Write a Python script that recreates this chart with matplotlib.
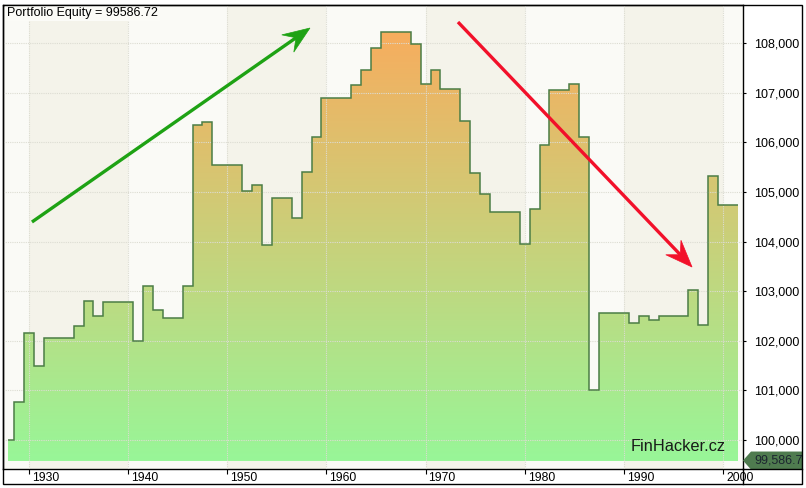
import numpy as np
import matplotlib
matplotlib.use("Agg")
import matplotlib.pyplot as plt
from matplotlib.colors import LinearSegmentedColormap
from matplotlib.patches import Rectangle, Polygon
from matplotlib.lines import Line2D
import matplotlib.transforms as mtransforms
import matplotlib.ticker as mtick

plt.rcParams['font.family'] = ['Liberation Sans', 'DejaVu Sans']

# ── Data (yearly equity steps) ──
years = np.arange(1928, 2002)
equity = [
    100000, 100766, 102150, 101490, 102050, 102050, 102050, 102290, 102800, 102500,
    102780, 102780, 102780, 102000, 103100, 102610, 102450, 102450, 103100, 106350,
    106400, 105540, 105540, 105540, 105020, 105130, 103930, 104870, 104870, 104470,
    105400, 106110, 106890, 106890, 106890, 107150, 107450, 107900, 108220, 108220,
    108220, 107990, 107170, 107450, 107070, 107070, 106420, 105380, 104960, 104600,
    104600, 104600, 103950, 104650, 105940, 107050, 107050, 107170, 106110, 101010,
    102550, 102550, 102550, 102350, 102490, 102420, 102490, 102490, 102490, 103020,
    102310, 105320, 104740, 104740,
]
data_start = 1927.88
final_equity = 99586.72
y_ticks = [100000, 101000, 102000, 103000, 104000, 105000, 106000, 107000, 108000]
x_ticks = [1930, 1940, 1950, 1960, 1970, 1980, 1990, 2000]
dark_decades = [1930, 1950, 1970, 1990]
up_arrow = ((1930.3, 104393), (1958.34, 108302))
down_arrow = ((1973.27, 108423), (1996.88, 103486))

W, H = 806, 488
def fx(x):
    return x / W
def fy(y):
    return 1 - y / H

fig = plt.figure(figsize=(W / 100, H / 100), dpi=100)
fig.patch.set_facecolor('white')
ax = fig.add_axes([fx(3), fy(469), (743 - 3) / W, (469 - 5) / H])
ax.set_facecolor('#fafaf6')

XL = (1927.38, 2002.02)
YL = (99416, 108766)

# decade bands
for d in dark_decades:
    ax.axvspan(d, d + 10, color='#f4f3ea', zorder=0, lw=0)

# gradient fill clipped to the step area
edges = np.concatenate([[data_start], years + 0.5])
patch = ax.stairs(equity, edges, baseline=final_equity, fill=True,
                  facecolor='none', edgecolor='none', zorder=1)
cmap = LinearSegmentedColormap.from_list('eq', ['#98f698', '#f7ad5e'])
grad = np.linspace(0, 1, 256).reshape(-1, 1)
im = ax.imshow(grad, extent=[data_start, edges[-1], final_equity, max(equity)],
               origin='lower', aspect='auto', cmap=cmap, zorder=1.5,
               interpolation='bilinear')
im.set_clip_path(patch)
ax.stairs(equity, edges, baseline=None, color='#4b7d45', lw=1.1, zorder=3)

# grid
ax.set_axisbelow(False)
ax.grid(True, color='#dcdcd2', ls=(0, (1, 1)), lw=0.8, zorder=2)

ax.set_xlim(XL)
ax.set_ylim(YL)

# arrows with notched heads (built in pixel space, drawn in data space)
def notched_arrow(start, end, color, lw=2.4, head_len=27, half_w=10.5, notch=17):
    to_px = ax.transData
    p0 = np.array(to_px.transform(start))
    p1 = np.array(to_px.transform(end))
    u = (p1 - p0) / np.hypot(*(p1 - p0))
    n = np.array([-u[1], u[0]])
    back = p1 - u * head_len
    nb = p1 - u * notch
    head = np.array([p1, back + n * half_w, nb, back - n * half_w])
    inv = to_px.inverted()
    line_end = inv.transform(nb + u * 2)
    ax.plot([start[0], line_end[0]], [start[1], line_end[1]], color=color, lw=lw,
            solid_capstyle='butt', zorder=4)
    ax.add_patch(Polygon(inv.transform(head), closed=True, fc=color, ec=color,
                         lw=0.5, zorder=4))

notched_arrow(*up_arrow, color='#1ea214')
notched_arrow(*down_arrow, color='#f2102a')

ax.set_xlim(XL)
ax.set_ylim(YL)

# axes styling
for sp in ax.spines.values():
    sp.set_color('black')
    sp.set_linewidth(1)

ax.yaxis.tick_right()
ax.set_yticks(y_ticks)
ax.yaxis.set_major_formatter(mtick.FuncFormatter(lambda v, _: f"{v:,.0f}"))
ax.tick_params(axis='y', direction='out', length=2.5, width=0.8, pad=5.2,
               labelsize=9, colors='black')
ax.set_xticks(x_ticks)
ax.tick_params(axis='x', direction='out', length=3.5, width=0.8, pad=-1.6,
               labelsize=8.7, colors='black')
offset = mtransforms.ScaledTranslation(3 / 100, 0, fig.dpi_scale_trans)
for lbl in ax.get_xticklabels():
    lbl.set_horizontalalignment('left')
    lbl.set_transform(lbl.get_transform() + offset)

# texts
ax.text(0.0054, 0.9957, "Portfolio Equity = 99586.72", transform=ax.transAxes,
        ha='left', va='top', fontsize=9, color='black', zorder=6,
        bbox=dict(boxstyle='square,pad=0.15', fc='#fbfbf7', ec='none'))
ax.text(0.977, 0.039, "FinHacker.cz", transform=ax.transAxes,
        ha='right', va='baseline', fontsize=11.8, color='#1a1a1a', zorder=6)

# last value marker on the right axis
tr = ax.get_yaxis_transform()
hh = 9 / 49.625 * 1000
xr = (802 - 3) / 740
xn = (751 - 3) / 740
marker = Polygon([(1.0, final_equity), (xn, final_equity + hh), (xr, final_equity + hh),
                  (xr, final_equity - hh), (xn, final_equity - hh)],
                 closed=True, transform=tr, clip_on=False, fc='#4f7b4f', ec='none', zorder=6)
ax.add_patch(marker)
ax.text((754 - 3) / 740, final_equity, "99,586.7", transform=tr, ha='left', va='center',
        fontsize=9, color='#1c2630', clip_on=False, zorder=7)

# outer frame
fig.add_artist(Rectangle((fx(3), fy(484)), fx(802 - 3), (484 - 5) / H, fill=False,
                         ec='black', lw=1, transform=fig.transFigure))
fig.add_artist(Line2D([fx(743), fx(802)], [fy(469), fy(469)], color='black', lw=1,
                      transform=fig.transFigure))
fig.add_artist(Line2D([fx(743), fx(743)], [fy(469), fy(484)], color='black', lw=1,
                      transform=fig.transFigure))

fig.savefig("out.png", dpi=100)
